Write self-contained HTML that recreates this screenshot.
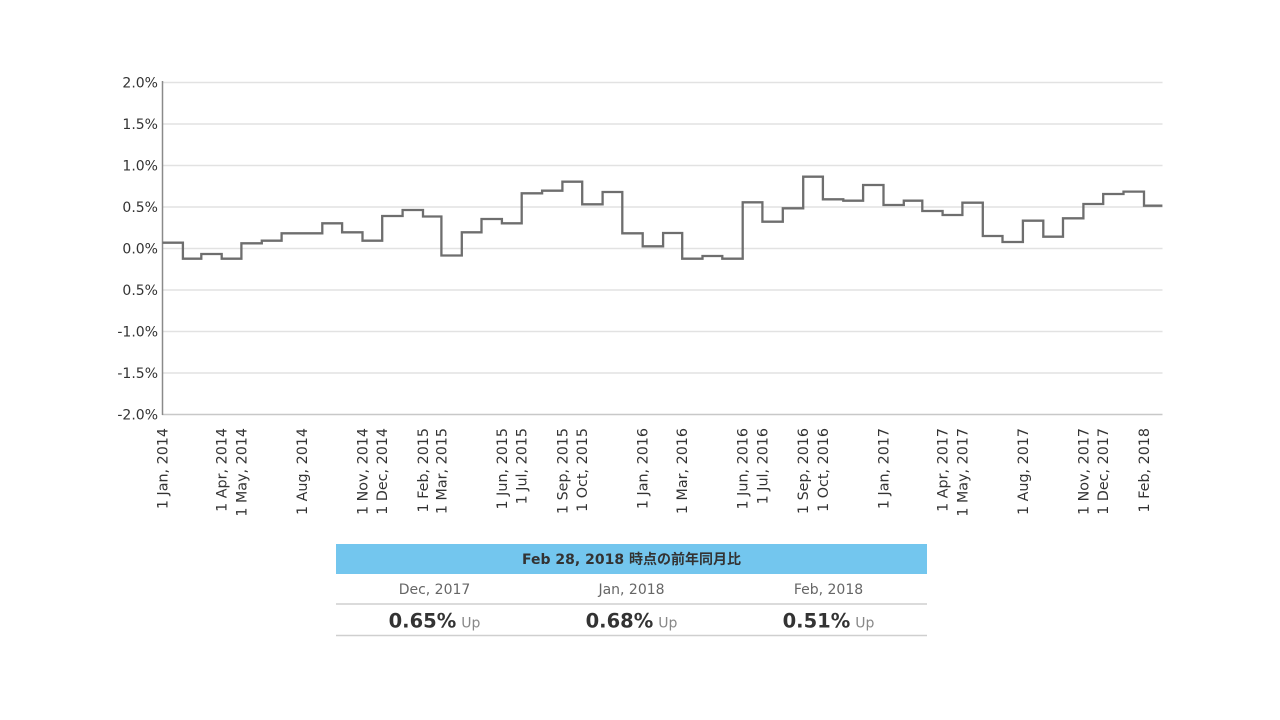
<!DOCTYPE html>
<html>
<head>
<meta charset="utf-8">
<style>
  html,body{margin:0;padding:0;background:#fff;}
  svg{display:block;}
  .yl{font-family:"DejaVu Sans","Liberation Sans",sans-serif;font-size:14px;fill:#333;text-anchor:end;}
  .xl{font-family:"DejaVu Sans","Liberation Sans",sans-serif;font-size:14.3px;fill:#333;text-anchor:end;}
  .hd{font-family:"DejaVu Sans","Liberation Sans","Noto Sans CJK JP",sans-serif;font-size:14px;font-weight:bold;fill:#333;text-anchor:middle;}
  .r1{font-family:"DejaVu Sans","Liberation Sans",sans-serif;font-size:14px;fill:#666;text-anchor:middle;}
  .r2{font-family:"DejaVu Sans","Liberation Sans",sans-serif;font-size:19.5px;font-weight:bold;fill:#333;}
  .up{font-size:14px;font-weight:normal;fill:#888;}
</style>
</head>
<body>
<svg width="1280" height="720" viewBox="0 0 1280 720" xmlns="http://www.w3.org/2000/svg">
  <rect width="1280" height="720" fill="#fff"/>
  <!-- gridlines -->
  <g stroke="#e2e2e2" stroke-width="1.5">
    <line x1="162" y1="82.5" x2="1162.5" y2="82.5"/>
    <line x1="162" y1="124" x2="1162.5" y2="124"/>
    <line x1="162" y1="165.5" x2="1162.5" y2="165.5"/>
    <line x1="162" y1="207" x2="1162.5" y2="207"/>
    <line x1="162" y1="248.5" x2="1162.5" y2="248.5"/>
    <line x1="162" y1="290" x2="1162.5" y2="290"/>
    <line x1="162" y1="331.5" x2="1162.5" y2="331.5"/>
    <line x1="162" y1="373" x2="1162.5" y2="373"/>
  </g>
  <line x1="162" y1="414.5" x2="1162.5" y2="414.5" stroke="#c8c8c8" stroke-width="1.5"/>
  <line x1="162.5" y1="81" x2="162.5" y2="415" stroke="#8a8a8a" stroke-width="1.5"/>

  <!-- y labels -->
  <g class="yl">
    <text x="158" y="87.5">2.0%</text>
    <text x="158" y="129">1.5%</text>
    <text x="158" y="170.5">1.0%</text>
    <text x="158" y="212">0.5%</text>
    <text x="158" y="253.5">0.0%</text>
    <text x="158" y="295">0.5%</text>
    <text x="158" y="336.5">-1.0%</text>
    <text x="158" y="378">-1.5%</text>
    <text x="158" y="419.5">-2.0%</text>
  </g>

  <!-- step line -->
  <path fill="none" stroke="#6e6e6e" stroke-width="2.3" stroke-linejoin="miter"
    d="M162.5,242.7 H182.9 V258.7 H201.3 V254 H221.7 V258.7 H241.4 V243.3 H261.8 V240.7 H281.6 V233.3 H322.3 V223.3 H342.1 V232.3 H362.5 V240.7 H382.2 V216 H402.6 V210 H423 V216.5 H441.4 V255.5 H461.8 V232.3 H481.5 V219 H501.9 V223.3 H521.7 V193.3 H542.1 V190.7 H562.4 V181.7 H582.2 V204.3 H602.6 V192 H622.3 V233.3 H642.7 V246.3 H663.1 V233 H682.2 V258.7 H702.5 V256 H722.3 V258.7 H742.7 V202.3 H762.4 V221.7 H782.8 V208.3 H803.2 V176.7 H822.9 V199.3 H843.3 V200.7 H863.1 V185 H883.5 V205 H903.8 V200.7 H922.3 V211 H942.6 V215 H962.4 V202.7 H982.8 V236 H1002.5 V242 H1022.9 V220.7 H1043.3 V236.7 H1063 V218.3 H1083.4 V204 H1103.2 V194 H1123.5 V191.6 H1144 V205.7 H1162.4"/>

  <!-- x labels -->
  <g class="xl">
    <text transform="translate(167.5,428) rotate(-90)">1 Jan, 2014</text>
    <text transform="translate(226.7,428) rotate(-90)">1 Apr, 2014</text>
    <text transform="translate(246.4,428) rotate(-90)">1 May, 2014</text>
    <text transform="translate(307,428) rotate(-90)">1 Aug, 2014</text>
    <text transform="translate(367.5,428) rotate(-90)">1 Nov, 2014</text>
    <text transform="translate(387.2,428) rotate(-90)">1 Dec, 2014</text>
    <text transform="translate(428,428) rotate(-90)">1 Feb, 2015</text>
    <text transform="translate(446.4,428) rotate(-90)">1 Mar, 2015</text>
    <text transform="translate(506.9,428) rotate(-90)">1 Jun, 2015</text>
    <text transform="translate(526.7,428) rotate(-90)">1 Jul, 2015</text>
    <text transform="translate(567.4,428) rotate(-90)">1 Sep, 2015</text>
    <text transform="translate(587.2,428) rotate(-90)">1 Oct, 2015</text>
    <text transform="translate(647.7,428) rotate(-90)">1 Jan, 2016</text>
    <text transform="translate(687.2,428) rotate(-90)">1 Mar, 2016</text>
    <text transform="translate(747.7,428) rotate(-90)">1 Jun, 2016</text>
    <text transform="translate(767.4,428) rotate(-90)">1 Jul, 2016</text>
    <text transform="translate(808.2,428) rotate(-90)">1 Sep, 2016</text>
    <text transform="translate(827.9,428) rotate(-90)">1 Oct, 2016</text>
    <text transform="translate(888.5,428) rotate(-90)">1 Jan, 2017</text>
    <text transform="translate(947.6,428) rotate(-90)">1 Apr, 2017</text>
    <text transform="translate(967.4,428) rotate(-90)">1 May, 2017</text>
    <text transform="translate(1027.9,428) rotate(-90)">1 Aug, 2017</text>
    <text transform="translate(1088.4,428) rotate(-90)">1 Nov, 2017</text>
    <text transform="translate(1108.2,428) rotate(-90)">1 Dec, 2017</text>
    <text transform="translate(1149,428) rotate(-90)">1 Feb, 2018</text>
  </g>

  <!-- table -->
  <rect x="336" y="544" width="591" height="30" fill="#73c6ee"/>
  <text class="hd" x="631.5" y="564">Feb 28, 2018 時点の前年同月比</text>
  <text class="r1" x="434.5" y="594">Dec, 2017</text>
  <text class="r1" x="631.5" y="594">Jan, 2018</text>
  <text class="r1" x="828.5" y="594">Feb, 2018</text>
  <line x1="336" y1="604" x2="927" y2="604" stroke="#cfcfcf" stroke-width="1.5"/>
  <text class="r2" x="434.5" y="627.5" text-anchor="middle">0.65%<tspan class="up" dx="5">Up</tspan></text>
  <text class="r2" x="631.5" y="627.5" text-anchor="middle">0.68%<tspan class="up" dx="5">Up</tspan></text>
  <text class="r2" x="828.5" y="627.5" text-anchor="middle">0.51%<tspan class="up" dx="5">Up</tspan></text>
  <line x1="336" y1="635.5" x2="927" y2="635.5" stroke="#cfcfcf" stroke-width="1.5"/>
</svg>
</body>
</html>
